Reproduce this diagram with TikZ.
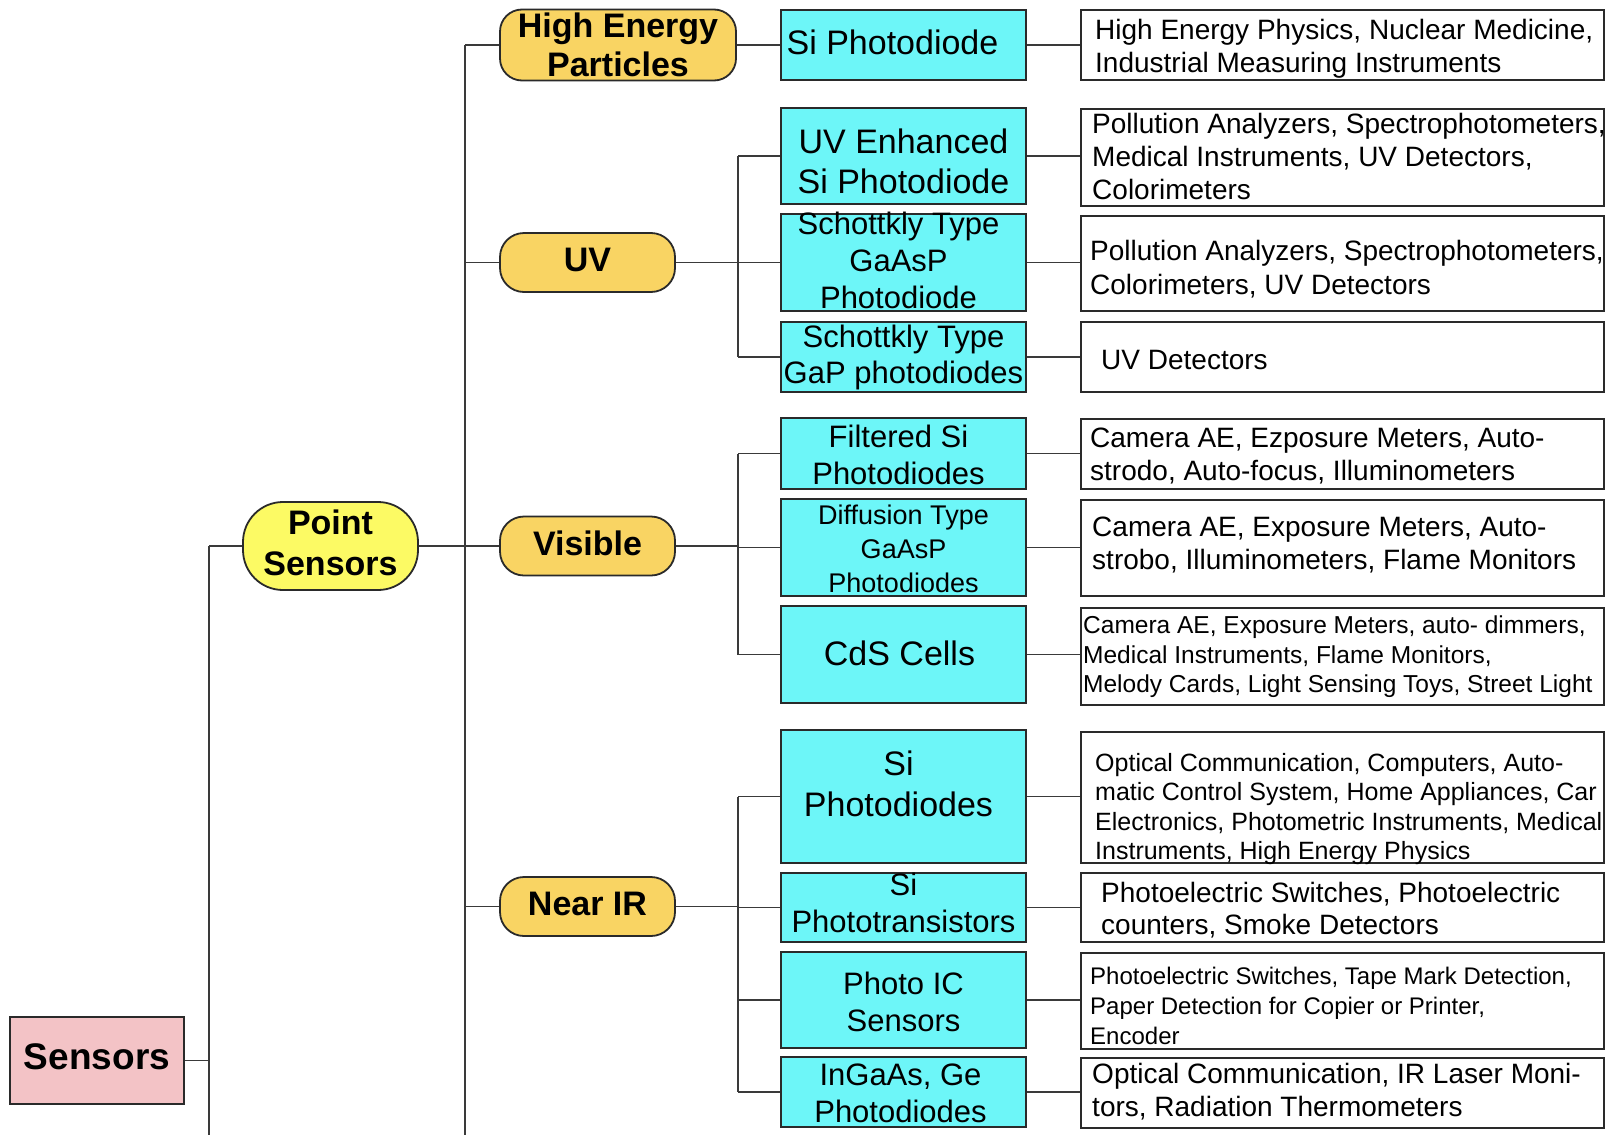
\documentclass[tikz,border=0pt]{standalone}
\usepackage{fontspec}
\setmainfont{Liberation Sans}
\begin{document}
\begin{tikzpicture}[x=1pt,y=-1pt]
\definecolor{edgec}{HTML}{2A2A2A}
\definecolor{wirec}{HTML}{3A3A3A}
\definecolor{rootfill}{HTML}{F3C3C6}
\definecolor{pointfill}{HTML}{FCFA64}
\definecolor{bandfill}{HTML}{F9D463}
\definecolor{devfill}{HTML}{6DF6F8}
\tikzset{
  wire/.style={draw=wirec, line width=1.6pt},
  root/.style={draw=edgec, line width=1.8pt, fill=rootfill, minimum width=174pt,
    minimum height=87pt, inner sep=0pt, text depth=8pt, font=\fontsize{37}{40}\selectfont\bfseries},
  pill/.style={draw=edgec, line width=1.8pt, rounded corners=#1, inner sep=0pt,
    align=center, font=\fontsize{34}{39}\selectfont\bfseries},
  band/.style={pill=24pt, fill=bandfill, minimum width=175pt, minimum height=59pt, text depth=5pt},
  dev/.style={draw=edgec, line width=1.8pt, fill=devfill, minimum width=245pt, inner sep=0pt},
  use/.style={draw=edgec, line width=1.8pt, fill=white, minimum width=523pt, inner sep=0pt, anchor=west},
  devtxt/.style={inner sep=0pt, align=center},
  usetxt/.style={inner sep=0pt, align=left, anchor=west},
}
\useasboundingbox (0,0) rectangle (1616,1135);
\fill[white] (0,0) rectangle (1616,1135);

% root and first split
\node[root] (sensors) at (97,1060.5) {Sensors};
\node[pill=40pt, fill=pointfill, minimum width=175pt, minimum height=88pt,
  label={[devtxt, font=\fontsize{34}{41}\selectfont\bfseries, yshift=3.5pt]center:Point\\Sensors}] (point) at (330.5,546) {};

% spectral bands
\node[pill=22pt, fill=bandfill, minimum width=236pt, minimum height=71pt] (hep) at (618,45) {High Energy\\Particles};
\node[band] (uv) at (587.5,262.5) {UV};
\node[band] (vis) at (587.5,546) {Visible};
\node[band] (nir) at (587.5,906.5) {Near IR};

% detector types
\node[dev, minimum height=70pt, label={[devtxt, font=\fontsize{34}{40}\selectfont, xshift=-11pt, yshift=3pt]center:Si Photodiode}] (d1) at (903.5,45) {};
\node[dev, minimum height=96pt, label={[devtxt, font=\fontsize{34}{40}\selectfont, yshift=-5pt]center:UV Enhanced\\Si Photodiode}] (d2) at (903.5,156) {};
\node[dev, minimum height=97pt, label={[devtxt, font=\fontsize{31}{37}\selectfont, xshift=-5pt, yshift=2.5pt]center:Schottkly Type\\GaAsP\\Photodiode}] (d3) at (903.5,262.5) {};
\node[dev, minimum height=70pt, label={[devtxt, font=\fontsize{31}{36}\selectfont]center:Schottkly Type\\GaP photodiodes}] (d4) at (903.5,357) {};
\node[dev, minimum height=71pt, label={[devtxt, font=\fontsize{31}{37}\selectfont, xshift=-5pt, yshift=-1pt]center:Filtered Si\\Photodiodes}] (d5) at (903.5,453.5) {};
\node[dev, minimum height=97pt, label={[devtxt, font=\fontsize{27}{34}\selectfont, yshift=-1pt]center:Diffusion Type\\GaAsP\\Photodiodes}] (d6) at (903.5,547.5) {};
\node[dev, minimum height=97pt, label={[devtxt, font=\fontsize{34}{40}\selectfont, xshift=-4pt, yshift=1.5pt]center:CdS Cells}] (d7) at (903.5,654.5) {};
\node[dev, minimum height=133pt, label={[devtxt, font=\fontsize{34}{41}\selectfont, xshift=-5pt, yshift=13pt]center:Si\\Photodiodes}] (d8) at (903.5,796.5) {};
\node[dev, minimum height=69pt, label={[devtxt, font=\fontsize{31}{37}\selectfont, yshift=5pt]center:Si\\Phototransistors}] (d9) at (903.5,907.5) {};
\node[dev, minimum height=96pt, label={[devtxt, font=\fontsize{31}{37}\selectfont, yshift=-1.5pt]center:Photo IC\\Sensors}] (d10) at (903.5,1000) {};
\node[dev, minimum height=70pt, label={[devtxt, font=\fontsize{31}{37}\selectfont, xshift=-3pt, yshift=-1.5pt]center:InGaAs, Ge\\Photodiodes}] (d11) at (903.5,1092) {};

% applications
\node[use, minimum height=70pt, label={[usetxt, font=\fontsize{28}{33}\selectfont, xshift=15pt, yshift=-3.5pt]west:High Energy Physics, Nuclear Medicine,\\Industrial Measuring Instruments}] (u1) at (1080,45) {};
\node[use, minimum height=97pt, label={[usetxt, font=\fontsize{28}{33}\selectfont, xshift=12pt, yshift=1.5pt]west:Pollution Analyzers, Spectrophotometers,\\Medical Instruments, UV Detectors,\\Colorimeters}] (u2) at (1080,157.5) {};
\node[use, minimum height=95pt, label={[usetxt, font=\fontsize{28}{34}\selectfont, xshift=10pt, yshift=-5.5pt]west:Pollution Analyzers, Spectrophotometers,\\Colorimeters, UV Detectors}] (u3) at (1080,263.5) {};
\node[use, minimum height=70pt, label={[usetxt, font=\fontsize{28}{33}\selectfont, xshift=21pt, yshift=-3pt]west:UV Detectors}] (u4) at (1080,357) {};
\node[use, minimum height=70pt, label={[usetxt, font=\fontsize{28}{33}\selectfont, xshift=10pt, yshift=-2.5pt]west:Camera AE, Ezposure Meters, Auto-\\strodo, Auto-focus, Illuminometers}] (u5) at (1080,454) {};
\node[use, minimum height=96pt, label={[usetxt, font=\fontsize{28}{33}\selectfont, xshift=12pt, yshift=3pt]west:Camera AE, Exposure Meters, Auto-\\strobo, Illuminometers, Flame Monitors}] (u6) at (1080,548) {};
\node[use, minimum height=97pt, label={[usetxt, font=\fontsize{24.5}{29.5}\selectfont, xshift=3pt, yshift=-0.5pt]west:Camera AE, Exposure Meters, auto- dimmers,\\Medical Instruments, Flame Monitors,\\Melody Cards, Light Sensing Toys, Street Light}] (u7) at (1080,656.5) {};
\node[use, minimum height=131pt, label={[usetxt, font=\fontsize{25}{29.5}\selectfont, xshift=15pt, yshift=-11.5pt]west:Optical Communication, Computers, Auto-\\matic Control System, Home Appliances, Car\\Electronics, Photometric Instruments, Medical\\Instruments, High Energy Physics}] (u8) at (1080,797.5) {};
\node[use, minimum height=69pt, label={[usetxt, font=\fontsize{28}{32}\selectfont, xshift=21pt, yshift=-2.5pt]west:Photoelectric Switches, Photoelectric\\counters, Smoke Detectors}] (u9) at (1080,907.5) {};
\node[use, minimum height=96pt, label={[usetxt, font=\fontsize{24}{30}\selectfont, xshift=10pt, yshift=-5pt]west:Photoelectric Switches, Tape Mark Detection,\\Paper Detection for Copier or Printer,\\Encoder}] (u10) at (1080,1001) {};
\node[use, minimum height=70pt, label={[usetxt, font=\fontsize{28}{33}\selectfont, xshift=12pt, yshift=1pt]west:Optical Communication, IR Laser Moni-\\tors, Radiation Thermometers}] (u11) at (1080,1093) {};

% trunk lines
\coordinate (tA) at (209,1135);
\coordinate (tB) at (465,1135);
\coordinate (tC) at (738,0);

\draw[wire] (sensors.east) -- (sensors.east -| tA);
\draw[wire] (point.west -| tA) -- (tA);
\draw[wire] (point.west -| tA) -- (point.west);

\draw[wire] (point.east) -- (point.east -| tB);
\draw[wire] (hep.west -| tB) -- (tB);
\foreach \n in {hep,uv,vis,nir} \draw[wire] (\n.west -| tB) -- (\n.west);

\draw[wire] (hep.east) -- (d1.west);

\draw[wire] (uv.east) -- (uv.east -| tC);
\draw[wire] (d2.west -| tC) -- (d4.west -| tC);
\draw[wire] (vis.east) -- (vis.east -| tC);
\draw[wire] (d5.west -| tC) -- (d7.west -| tC);
\draw[wire] (nir.east) -- (nir.east -| tC);
\draw[wire] (d8.west -| tC) -- (d11.west -| tC);
\foreach \n in {2,...,11} \draw[wire] (d\n.west -| tC) -- (d\n.west);

\foreach \n in {1,...,11} \draw[wire] (d\n.east) -- (d\n.east -| u\n.west);
\end{tikzpicture}
\end{document}
